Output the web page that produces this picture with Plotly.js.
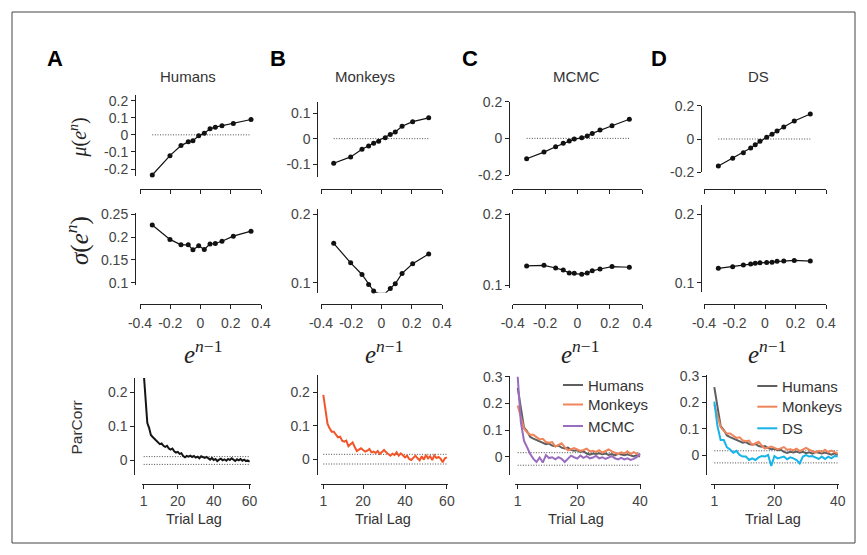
<!DOCTYPE html>
<html>
<head>
<meta charset="utf-8">
<script src="https://cdn.plot.ly/plotly-3.0.1.min.js"></script>
<style>html,body{margin:0;padding:0;background:#fff;}#chart{width:867px;height:555px;}</style>
</head>
<body>
<div id="chart"></div>
<script>
// ---------------- DATA ----------------
const columnTitles = ["Humans", "Monkeys", "MCMC", "DS"];
const panelLetters = ["A", "B", "C", "D"];

// bin centres of e^{n-1}
const xBinsA = [-0.319,-0.202,-0.129,-0.081,-0.050,-0.012,0.025,0.063,0.098,0.142,0.217,0.334];
const xBinsB = [-0.316,-0.204,-0.129,-0.085,-0.052,-0.019,0.025,0.058,0.091,0.136,0.206,0.312];
const xBinsC = [-0.314,-0.207,-0.135,-0.088,-0.051,-0.020,0.026,0.060,0.091,0.139,0.213,0.320];
const xBinsD = [-0.306,-0.212,-0.142,-0.094,-0.064,-0.033,0.011,0.046,0.079,0.123,0.192,0.297];

// mean of e^n
const muHumans  = [-0.235,-0.122,-0.063,-0.041,-0.034,-0.006,0.009,0.035,0.045,0.053,0.066,0.090];
const muMonkeys = [-0.097,-0.072,-0.042,-0.029,-0.018,-0.010,0.004,0.016,0.026,0.049,0.067,0.082];
const muMCMC    = [-0.111,-0.075,-0.046,-0.027,-0.015,-0.004,0.003,0.013,0.027,0.045,0.069,0.104];
const muDS      = [-0.162,-0.116,-0.082,-0.054,-0.034,-0.014,0.010,0.028,0.048,0.072,0.108,0.150];

// sd of e^n
const sdHumans  = [0.2265,0.195,0.183,0.183,0.172,0.181,0.173,0.185,0.186,0.191,0.202,0.213];
const sdMonkeys = [0.1575,0.129,0.112,0.0975,0.0877,0.0843,0.0843,0.0917,0.0984,0.1136,0.1277,0.1419];
const sdMCMC    = [0.1268,0.1277,0.124,0.121,0.117,0.1165,0.115,0.117,0.120,0.1225,0.126,0.125];
const sdDS      = [0.121,0.1233,0.1258,0.1272,0.1283,0.1291,0.1297,0.130,0.1312,0.1316,0.1326,0.1316];

// trial lags
const lags60 = [1,2,3,4,5,6,7,8,9,10,11,12,13,14,15,16,17,18,19,20,21,22,23,24,25,26,27,28,29,30,
                31,32,33,34,35,36,37,38,39,40,41,42,43,44,45,46,47,48,49,50,51,52,53,54,55,56,57,58,59,60];
const lags40 = [1,2,3,4,5,6,7,8,9,10,11,12,13,14,15,16,17,18,19,20,21,22,23,24,25,26,27,28,29,30,
                31,32,33,34,35,36,37,38,39,40];

// partial correlations
const pcHumans = [0.258,0.175,0.110,0.095,0.074,0.068,0.063,0.058,0.053,0.047,
                  0.049,0.042,0.039,0.042,0.034,0.031,0.034,0.026,0.022,0.024,
                  0.018,0.020,0.012,0.008,0.012,0.010,0.013,0.009,0.012,0.007,
                  0.010,0.005,0.011,0.008,0.006,0.009,0.004,0.001,0.006,0.000,
                  0.003,-0.003,0.001,0.004,-0.001,0.002,-0.002,0.003,0.000,0.005,
                  0.001,-0.003,0.002,-0.001,0.003,-0.002,0.001,-0.003,-0.001,-0.005];
const pcMonkeys = [0.192,0.147,0.106,0.092,0.082,0.082,0.072,0.065,0.067,0.055,0.052,0.055,0.038,0.045,0.050,
                   0.036,0.024,0.028,0.032,0.027,0.022,0.025,0.030,0.020,0.022,0.018,0.024,0.015,0.020,0.027,
                   0.020,0.015,0.010,0.016,0.012,0.020,0.010,0.017,0.012,0.005,0.010,0.000,-0.003,0.004,0.010,
                   0.002,-0.004,0.008,-0.002,0.012,0.002,0.008,-0.003,0.011,0.003,0.006,0.001,-0.010,0.002,0.005];
const pcMCMC = [0.300,0.130,0.060,0.035,0.010,-0.008,-0.020,-0.003,-0.022,0.006,-0.005,-0.002,-0.010,-0.002,-0.008,
                -0.020,-0.006,0.004,-0.002,-0.007,0.004,-0.004,0.002,-0.006,-0.003,0.003,-0.006,-0.002,-0.008,-0.004,
                0.002,-0.006,-0.010,-0.004,-0.010,-0.006,-0.012,-0.008,-0.002,0.012];
const pcDS = [0.203,0.110,0.057,0.057,0.029,0.021,0.009,0.016,0.000,-0.006,-0.006,-0.019,-0.013,-0.019,-0.009,
              -0.004,-0.006,0.000,-0.042,-0.004,-0.013,-0.009,-0.006,-0.016,-0.009,-0.013,-0.019,-0.032,-0.006,0.000,
              -0.006,-0.004,-0.010,-0.015,-0.006,-0.015,-0.006,-0.013,-0.004,-0.006];

// significance bounds (upper, lower) per column
const boundsA = [0.010, -0.013];
const boundsB = [0.014, -0.015];
const boundsC = [0.015, -0.032];
const boundsD = [0.016, -0.030];

// tick labels
const xTickVals = [-0.4,-0.2,0,0.2,0.4];
const xTickText = ["-0.4","-0.2","0","0.2","0.4"];
const muTickValsA = [-0.2,-0.1,0,0.1,0.2];
const muTickTextA = ["-0.2","-0.1","0","0.1","0.2"];
const muTickValsB = [-0.1,0,0.1];
const muTickTextB = ["-0.1","0","0.1"];
const muTickValsCD = [-0.2,0,0.2];
const muTickTextCD = ["-0.2","0","0.2"];
const sdTickValsA = [0.1,0.15,0.2,0.25];
const sdTickTextA = ["0.1","0.15","0.2","0.25"];
const sdTickVals = [0.1,0.2];
const sdTickText = ["0.1","0.2"];
const pcTickValsAB = [0,0.1,0.2];
const pcTickValsCD = [0,0.1,0.2,0.3];
const lagTicks60 = [1,20,40,60];
const lagTicks40 = [1,20,40];
const legendC = ["Humans","Monkeys","MCMC"];
const legendD = ["Humans","Monkeys","DS"];

// ---------------- LAYOUT HELPERS ----------------
const W = 867, H = 555;
const SANS = "Liberation Sans, Arial, Helvetica, sans-serif";
const SERIF = "Liberation Serif, DejaVu Serif, Times New Roman, serif";
const AXC = "#222";
const TICKC = "#444";
function fx(p){ return p / W; }
function fy(p){ return 1 - p / H; }
function lin(p1, v1, p2, v2, p){ return v1 + (p - p1) * (v2 - v1) / (p2 - p1); }

function baseAxis(){
  return {showgrid:false, zeroline:false, showline:true, linecolor:AXC, linewidth:1,
          ticks:"outside", ticklen:4, tickwidth:1, tickcolor:AXC,
          tickfont:{family:SANS, size:14, color:TICKC}, anchor:"free", fixedrange:true};
}
function xAxis(p1, v1, p2, v2, left, right, yPos, vals, text, labels, standoff){
  const a = baseAxis();
  a.domain = [fx(left), fx(right)];
  a.range = [lin(p1,v1,p2,v2,left), lin(p1,v1,p2,v2,right)];
  a.position = fy(yPos);
  a.tickmode = "array"; a.tickvals = vals;
  a.showticklabels = labels;
  if (labels) a.ticktext = text;
  if (standoff) a.ticklabelstandoff = standoff;
  return a;
}
function yAxis(p1, v1, p2, v2, top, bot, xPos, vals, text){
  const a = baseAxis();
  a.domain = [fy(bot), fy(top)];
  a.range = [lin(p1,v1,p2,v2,bot), lin(p1,v1,p2,v2,top)];
  a.position = fx(xPos);
  a.tickmode = "array"; a.tickvals = vals; a.ticktext = text;
  return a;
}

const layout = {
  width: W, height: H, margin:{l:0,r:0,t:0,b:0,pad:0},
  paper_bgcolor:"#fff", plot_bgcolor:"rgba(0,0,0,0)", showlegend:false,
  annotations:[], shapes:[]
};

const colX = [[140,261],[321,442],[512.7,642.3],[704,826]];
const colYAxisX = [135, 317.3, 509, 701];
const muY = [
  [100.7, 0.2, 169, -0.2, 95, 176, muTickValsA, muTickTextA],
  [113.3, 0.1, 164, -0.1, 101.7, 176.7, muTickValsB, muTickTextB],
  [101.7, 0.2, 175, -0.2, 101.7, 175, muTickValsCD, muTickTextCD],
  [105.7, 0.2, 172.3, -0.2, 105.7, 172.3, muTickValsCD, muTickTextCD]
];
const sdY = [
  [214.3, 0.25, 282.7, 0.1, 213, 285, sdTickValsA, sdTickTextA],
  [214.3, 0.2, 282.7, 0.1, 209, 292.7, sdTickVals, sdTickText],
  [214, 0.2, 285, 0.1, 213, 288, sdTickVals, sdTickText],
  [214.3, 0.2, 282.7, 0.1, 205, 291.7, sdTickVals, sdTickText]
];
const pcGeom = [
  {l1:143.7, l40:213.7, left:141.7, right:251, ax:134.3, pa:392.3, va:0.2, pb:460, top:378, bot:475, yt:pcTickValsAB, xt:lagTicks60},
  {l1:323.3, l40:405, left:321, right:448, ax:316.7, pa:392.3, va:0.2, pb:459, top:375, bot:475, yt:pcTickValsAB, xt:lagTicks60},
  {l1:517.7, l40:640, left:515, right:641, ax:509.3, pa:376.7, va:0.3, pb:456.7, top:376, bot:475, yt:pcTickValsCD, xt:lagTicks40},
  {l1:714.3, l40:837.7, left:711, right:839, ax:706, pa:376, va:0.3, pb:455, top:375, bot:475, yt:pcTickValsCD, xt:lagTicks40}
];

for (let c = 0; c < 4; c++){
  const [xl, xr] = colX[c];
  const iMu = c + 1, iSd = c + 5, iPc = c + 9;
  const m = muY[c], s = sdY[c], g = pcGeom[c];
  layout["xaxis" + (iMu === 1 ? "" : iMu)] = xAxis(xl, -0.4, xr, 0.4, xl, xr, 189.3, xTickVals, xTickText, false);
  layout["yaxis" + (iMu === 1 ? "" : iMu)] = yAxis(m[0], m[1], m[2], m[3], m[4], m[5], colYAxisX[c], m[6], m[7]);
  layout["xaxis" + iSd] = xAxis(xl, -0.4, xr, 0.4, xl, xr, 303.5, xTickVals, xTickText, true, 3);
  layout["yaxis" + iSd] = yAxis(s[0], s[1], s[2], s[3], s[4], s[5], colYAxisX[c], s[6], s[7]);
  layout["xaxis" + iPc] = xAxis(g.l1, 1, g.l40, 40, g.left, g.right, 484, g.xt, g.xt.map(String), true);
  layout["yaxis" + iPc] = yAxis(g.pa, g.va, g.pb, 0, g.top, g.bot, g.ax, g.yt, g.yt.map(String));
}

// ---------------- TRACES ----------------
const traces = [];
function ax(i){ return i === 1 ? "" : String(i); }
function dotsTrace(i, xs, ys){
  return {x:xs, y:ys, xaxis:"x"+ax(i), yaxis:"y"+ax(i), type:"scatter", mode:"lines+markers",
          line:{color:"#111", width:1.2}, marker:{color:"#111", size:5}, cliponaxis:false, hoverinfo:"skip"};
}
function dottedTrace(i, xs, yv){
  return {x:[xs[0], xs[xs.length-1]], y:[yv, yv], xaxis:"x"+ax(i), yaxis:"y"+ax(i), type:"scatter", mode:"lines",
          line:{color:"#4a4a4a", width:1, dash:"1px,1.6px"}, hoverinfo:"skip"};
}
function curve(i, xs, ys, color, width){
  return {x:xs, y:ys, xaxis:"x"+ax(i), yaxis:"y"+ax(i), type:"scatter", mode:"lines",
          line:{color:color, width:width}, hoverinfo:"skip"};
}

const xBins = [xBinsA, xBinsB, xBinsC, xBinsD];
const mus = [muHumans, muMonkeys, muMCMC, muDS];
const sds = [sdHumans, sdMonkeys, sdMCMC, sdDS];
for (let c = 0; c < 4; c++){
  traces.push(dottedTrace(c+1, xBins[c], 0));
  traces.push(dotsTrace(c+1, xBins[c], mus[c]));
  traces.push(dotsTrace(c+5, xBins[c], sds[c]));
}

const colHum = "#5f5f5f", colMonk = "#f0845a", colMCMC = "#9a6cbf", colDS = "#16b4e8";
const bounds = [boundsA, boundsB, boundsC, boundsD];
const lagSets = [lags60, lags60, lags40, lags40];
for (let c = 0; c < 4; c++){
  traces.push(dottedTrace(c+9, lagSets[c], bounds[c][0]));
  traces.push(dottedTrace(c+9, lagSets[c], bounds[c][1]));
}
traces.push(curve(9, lags60, pcHumans, "#151515", 2));
traces.push(curve(10, lags60, pcMonkeys, "#f2552a", 2));
traces.push(curve(11, lags40, pcHumans.slice(0,40), colHum, 2));
traces.push(curve(11, lags40, pcMonkeys.slice(0,40), colMonk, 2));
traces.push(curve(11, lags40, pcMCMC, colMCMC, 2));
traces.push(curve(12, lags40, pcHumans.slice(0,40), colHum, 2));
traces.push(curve(12, lags40, pcMonkeys.slice(0,40), colMonk, 2));
traces.push(curve(12, lags40, pcDS, colDS, 2));

// ---------------- TEXT ----------------
function ann(text, x, y, size, opts){
  const a = {text:text, x:fx(x), y:fy(y), xref:"paper", yref:"paper", showarrow:false,
             xanchor:"center", yanchor:"middle", font:{family:SANS, size:size, color:"#333"}};
  return Object.assign(a, opts || {});
}
const letterX = [54.5, 277.5, 470, 659];
const titleX = [187.5, 364.5, 576, 758];
for (let c = 0; c < 4; c++){
  layout.annotations.push(ann("<b>" + panelLetters[c] + "</b>", letterX[c], 58, 22, {font:{family:SANS, size:22, color:"#000"}}));
  layout.annotations.push(ann(columnTitles[c], titleX[c], 76.5, 15));
  const cx = (colX[c][0] + colX[c][1]) / 2;
  layout.annotations.push(ann("<i>e</i><sup><i>n</i>−1</sup>", cx + 2, 352, 25, {font:{family:SERIF, size:25, color:"#222"}}));
  const g = pcGeom[c];
  layout.annotations.push(ann("Trial Lag", (g.left + g.right)/2 - 2, 519, 14.5));
}
layout.annotations.push(ann("<i>μ</i>(<i>e</i><sup><i>n</i></sup>)", 78, 137.5, 20, {textangle:-90, font:{family:SERIF, size:20, color:"#222"}}));
layout.annotations.push(ann("<i>σ</i>(<i>e</i><sup><i>n</i></sup>)", 77, 241, 25, {textangle:-90, font:{family:SERIF, size:25, color:"#222"}}));
layout.annotations.push(ann("ParCorr", 76, 427.5, 15.5, {textangle:-90}));

// legends (glyph + label)
function legendBlock(labels, colors, lx0, lx1, tx, ys){
  for (let k = 0; k < labels.length; k++){
    layout.shapes.push({type:"line", xref:"paper", yref:"paper", x0:fx(lx0), x1:fx(lx1), y0:fy(ys[k]), y1:fy(ys[k]),
                        line:{color:colors[k], width:2}});
    layout.annotations.push(ann(labels[k], tx, ys[k], 15, {xanchor:"left"}));
  }
}
legendBlock(legendC, [colHum, colMonk, colMCMC], 563, 583, 585.5, [385, 404.5, 426]);
legendBlock(legendD, [colHum, colMonk, colDS], 757.3, 777.3, 780, [386, 406.7, 428.3]);

// figure frame
layout.shapes.push({type:"rect", xref:"paper", yref:"paper", x0:fx(12), x1:fx(855), y0:fy(543), y1:fy(12),
                    line:{color:"#444", width:1}, fillcolor:"rgba(0,0,0,0)", layer:"below"});

Plotly.newPlot("chart", traces, layout, {staticPlot:true, displayModeBar:false});
</script>
</body>
</html>
